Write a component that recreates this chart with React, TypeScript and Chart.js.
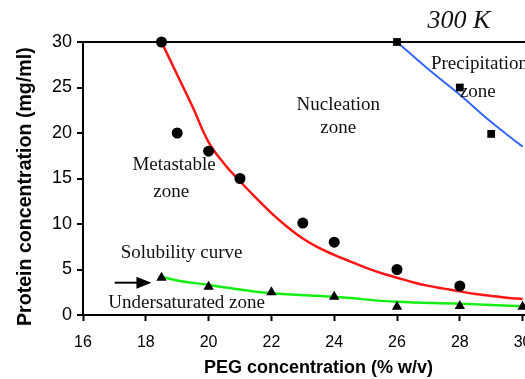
import React, { useEffect, useRef } from "react";
import { Chart, registerables } from "chart.js";

Chart.register(...registerables);

// Nucleation (metastable limit) measurements
const circleX = [18.5, 19, 20, 21, 23, 24, 26, 28];
const circleY = [30, 20, 18, 15, 10.1, 8, 5, 3.2];
// Precipitation limit measurements
const squareX = [26, 28, 29];
const squareY = [30, 25, 19.9];
// Solubility measurements
const triX = [18.5, 20, 22, 24, 26, 28, 30];
const triY = [4.1, 3.1, 2.5, 2.0, 0.9, 1.0, 0.9];

// Fitted curves
const redX = [18.5, 19, 19.5, 20, 20.5, 21, 21.5, 22, 22.5, 23, 23.5, 24, 24.5, 25, 25.5, 26, 26.5, 27, 27.5, 28, 28.5, 29, 29.5, 30];
const redY = [30, 26.4, 22.8, 19.0, 16.6, 14.7, 12.9, 11.2, 9.7, 8.4, 7.4, 6.6, 5.9, 5.2, 4.6, 4.1, 3.6, 3.2, 2.9, 2.6, 2.3, 2.1, 1.9, 1.75];
const greenX = [18.5, 19, 20, 21, 22, 24, 26, 28, 30];
const greenY = [4.2, 3.8, 3.3, 2.8, 2.4, 2.0, 1.45, 1.25, 0.95];
const blueX = [26, 27, 28, 29, 30];
const blueY = [30, 27.0, 24.2, 21.2, 18.5];

const xTicks = [16, 18, 20, 22, 24, 26, 28, 30];
const yTicks = [0, 5, 10, 15, 20, 25, 30];

const annoText = ["300 K", "Nucleation", "zone", "Metastable", "zone", "Precipitation", "zone", "Solubility curve", "Undersaturated zone"];
const annoX = [27.97, 24.13, 24.13, 18.9, 18.81, 27.08, 28.57, 19.14, 19.3];
const annoY = [32.3, 23.1, 20.5, 16.5, 13.5, 27.6, 24.5, 6.8, 1.3];
const annoAlign = ["center", "center", "center", "center", "center", "left", "center", "center", "center"];
const annoFont = [
  'italic 26px "Liberation Serif"',
  '19px "Liberation Serif"',
  '19px "Liberation Serif"',
  '19px "Liberation Serif"',
  '19px "Liberation Serif"',
  '19px "Liberation Serif"',
  '19px "Liberation Serif"',
  '19px "Liberation Serif"',
  '19px "Liberation Serif"',
];
const arrowFrom = [17.01, 3.55];
const arrowTo = [18.18, 3.55];

const pts = (xs: number[], ys: number[]) => xs.map((v, i) => ({ x: v, y: ys[i] }));

const annotationPlugin = {
  id: "annos",
  afterDatasetsDraw(chart: any) {
    const { ctx, scales } = chart;
    const x = scales.x;
    const y = scales.y;
    ctx.save();
    ctx.fillStyle = "#111";
    ctx.textBaseline = "middle";
    annoText.forEach((t, i) => {
      ctx.font = annoFont[i];
      ctx.textAlign = annoAlign[i];
      ctx.fillText(t, x.getPixelForValue(annoX[i]), y.getPixelForValue(annoY[i]));
    });
    const x0 = x.getPixelForValue(arrowFrom[0]);
    const y0 = y.getPixelForValue(arrowFrom[1]);
    const x1 = x.getPixelForValue(arrowTo[0]);
    const y1 = y.getPixelForValue(arrowTo[1]);
    ctx.strokeStyle = "#000";
    ctx.fillStyle = "#000";
    ctx.lineWidth = 2;
    ctx.beginPath();
    ctx.moveTo(x0, y0);
    ctx.lineTo(x1 - 12, y1);
    ctx.stroke();
    ctx.beginPath();
    ctx.moveTo(x1, y1);
    ctx.lineTo(x1 - 15, y1 - 6);
    ctx.lineTo(x1 - 15, y1 + 6);
    ctx.closePath();
    ctx.fill();
    ctx.restore();
  },
};

export default function App() {
  const ref = useRef<HTMLCanvasElement>(null);
  useEffect(() => {
    if (!ref.current) return;
    const chart = new Chart(ref.current, {
      type: "scatter",
      data: {
        datasets: [
          { data: pts(circleX, circleY), pointStyle: "circle", pointRadius: 5.5, backgroundColor: "#000", borderColor: "#000", borderWidth: 0, order: 0, clip: false },
          { data: pts(squareX, squareY), pointStyle: "rect", pointRadius: 5.5, backgroundColor: "#000", borderColor: "#000", borderWidth: 0, order: 0, clip: false },
          { data: pts(triX, triY), pointStyle: "triangle", pointRadius: 6, backgroundColor: "#000", borderColor: "#000", borderWidth: 0, order: 0, clip: false },
          { data: pts(redX, redY), showLine: true, pointRadius: 0, borderColor: "#ff1414", borderWidth: 2.5, tension: 0.4, order: 1, clip: false },
          { data: pts(greenX, greenY), showLine: true, pointRadius: 0, borderColor: "#14ee14", borderWidth: 2.5, tension: 0.4, order: 1, clip: false },
          { data: pts(blueX, blueY), showLine: true, pointRadius: 0, borderColor: "#3366ff", borderWidth: 2, tension: 0.4, order: 1, clip: false },
        ],
      },
      options: {
        responsive: false,
        animation: false,
        devicePixelRatio: 1,
        layout: { padding: { top: 42, left: 0, right: 2, bottom: 0 } },
        plugins: { legend: { display: false }, tooltip: { enabled: false } },
        scales: {
          x: {
            type: "linear",
            min: 16,
            max: 31,
            afterBuildTicks: (s: any) => { s.ticks = xTicks.map((v) => ({ value: v })); },
            afterFit: (s: any) => { s.height = 64; },
            border: { display: true, color: "#000", width: 2 },
            grid: { drawOnChartArea: false, drawTicks: true, tickLength: 6, tickColor: "#000", tickWidth: 2, color: "#000" },
            ticks: { color: "#000", font: { family: '"Liberation Sans"', size: 16 }, padding: 12, maxRotation: 0 },
            title: { display: true, text: "PEG concentration (% w/v)", color: "#000", font: { family: '"Liberation Sans"', size: 18, weight: "bold" }, padding: { top: 0, bottom: 0 } },
          },
          y: {
            type: "linear",
            min: 0,
            max: 30,
            afterBuildTicks: (s: any) => { s.ticks = yTicks.map((v) => ({ value: v })); },
            afterFit: (s: any) => { s.width = 83; },
            border: { display: true, color: "#000", width: 2 },
            grid: {
              drawOnChartArea: true,
              drawTicks: true,
              tickLength: 6,
              tickColor: "#000",
              tickWidth: 2,
              lineWidth: 2,
              color: (c: any) => (c.tick && c.tick.value === 30 ? "#000" : "rgba(0,0,0,0)"),
            },
            ticks: { color: "#000", font: { family: '"Liberation Sans"', size: 18 }, padding: 5 },
            title: { display: true, text: "Protein concentration (mg/ml)   ", color: "#000", font: { family: '"Liberation Sans"', size: 19.6, weight: "bold" }, padding: { top: 14.2, bottom: 0 } },
          },
        },
      },
      plugins: [annotationPlugin],
    });
    return () => chart.destroy();
  }, []);
  return (
    <div style={{ position: "absolute", left: 0, top: 0, width: 525, height: 379, overflow: "hidden", background: "#fff" }}>
      <canvas ref={ref} width={560} height={379} style={{ display: "block" }} />
    </div>
  );
}
